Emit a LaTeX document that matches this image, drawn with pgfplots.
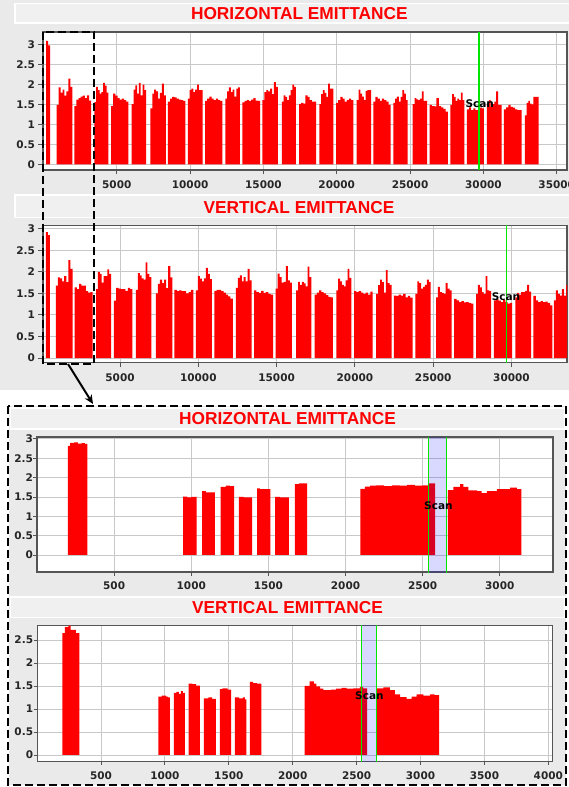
\documentclass[border=0pt]{standalone}
\usepackage{pgfplots}
\pgfplotsset{compat=1.18}
\usepackage{pgfplotstable}
\usepackage{fontspec}
\setmainfont{DejaVu Sans}
\newfontfamily\titlefont{Liberation Sans}
\usetikzlibrary{arrows.meta}

\definecolor{panelbg}{RGB}{234,234,234}
\definecolor{titlebg}{RGB}{240,240,240}
\definecolor{framegray}{RGB}{85,85,85}
\definecolor{gridgray}{RGB}{200,200,200}
\definecolor{scangreen}{RGB}{0,230,0}

% Each bunch train: a row at its start with 0, the emittance steps,
% a row at its end with 0, and a nan row that breaks the outline.

% Horizontal emittance per bunch train, full ring
\pgfplotstableread{
x y
190 0
190 3.09
320 2.98
450 0
0 nan
900 0
900 1.49
1034 1.93
1168 1.80
1301 1.87
1435 1.72
1569 1.83
1703 2.15
1836 1.94
1970 0
0 nan
2110 0
2110 1.46
2253 1.62
2395 1.66
2538 1.70
2680 1.72
2823 1.66
2965 1.73
3108 1.60
3250 0
0 nan
3470 0
3470 1.56
3590 1.94
3710 1.86
3830 1.77
3950 1.81
4070 2.04
4190 1.97
4310 1.80
4430 0
0 nan
4610 0
4610 1.46
4758 1.77
4905 1.72
5053 1.66
5200 1.62
5348 1.65
5495 1.61
5643 1.57
5790 0
0 nan
6020 0
6020 1.51
6143 1.87
6265 1.98
6388 1.77
6510 2.04
6633 1.73
6755 2.00
6878 1.86
7000 0
0 nan
7290 0
7290 1.40
7421 1.77
7553 1.87
7684 1.83
7815 1.65
7946 1.79
8078 2.02
8209 1.73
8340 0
0 nan
8480 0
8480 1.57
8630 1.65
8780 1.69
8930 1.68
9080 1.65
9230 1.62
9380 1.61
9530 1.59
9680 0
0 nan
9840 0
9840 1.65
9968 1.86
10095 1.90
10223 1.81
10350 1.87
10478 2.00
10605 1.86
10733 1.86
10860 0
0 nan
11020 0
11020 1.59
11168 1.65
11315 1.70
11463 1.65
11610 1.61
11758 1.65
11905 1.61
12053 1.59
12200 0
0 nan
12400 0
12400 1.65
12525 1.83
12650 1.93
12775 1.81
12900 1.87
13025 1.70
13150 1.90
13275 1.93
13400 0
0 nan
13560 0
13560 1.55
13711 1.59
13863 1.61
14014 1.59
14165 1.62
14316 1.66
14468 1.60
14619 1.59
14770 0
0 nan
14930 0
14930 1.61
15061 1.81
15193 1.86
15324 1.83
15455 1.90
15586 1.76
15718 2.06
15849 1.94
15980 0
0 nan
16250 0
16250 1.57
16371 1.73
16493 1.69
16614 1.61
16735 1.73
16856 1.86
16978 2.00
17099 1.94
17220 0
0 nan
17430 0
17430 1.51
17575 1.54
17720 1.52
17865 1.73
18010 1.69
18155 1.61
18300 1.57
18445 1.57
18590 0
0 nan
18810 0
18810 1.51
18930 1.76
19050 1.86
19170 1.79
19290 1.69
19410 2.02
19530 1.90
19650 1.90
19770 0
0 nan
19950 0
19950 1.54
20098 1.61
20245 1.69
20393 1.65
20540 1.57
20688 1.61
20835 1.65
20983 1.61
21130 0
0 nan
21360 0
21360 1.61
21483 1.87
21605 1.77
21728 1.70
21850 1.61
21973 1.84
22095 1.86
22218 1.86
22340 0
0 nan
22490 0
22490 1.57
22639 1.69
22788 1.65
22936 1.59
23085 1.65
23234 1.61
23383 1.57
23531 1.49
23680 0
0 nan
23860 0
23860 1.54
23983 1.65
24105 1.70
24228 1.57
24350 1.69
24473 1.86
24595 1.77
24718 1.61
24840 0
0 nan
25180 0
25180 1.51
25304 1.66
25428 1.63
25551 1.61
25675 1.65
25799 1.83
25923 1.59
26046 1.59
26170 0
0 nan
26340 0
26340 1.49
26494 1.46
26648 1.45
26801 1.66
26955 1.46
27109 1.43
27263 1.39
27416 1.32
27570 0
0 nan
27740 0
27740 1.49
27860 1.76
27980 1.69
28100 1.59
28220 1.65
28340 1.61
28460 1.80
28580 1.61
28700 0
0 nan
28880 0
28880 1.38
29025 1.43
29170 1.36
29315 1.40
29460 1.36
29605 1.36
29750 1.42
29895 1.40
30040 0
0 nan
30240 0
30240 1.52
30366 1.61
30493 1.44
30619 1.51
30745 1.57
30871 1.83
30998 1.49
31124 1.49
31250 0
0 nan
31400 0
31400 1.38
31551 1.43
31703 1.49
31854 1.44
32005 1.42
32156 1.38
32308 1.36
32459 1.36
32610 0
0 nan
32820 0
32820 1.23
32939 1.54
33058 1.59
33176 1.52
33295 1.50
33414 1.69
33533 1.69
33651 1.69
33770 0
}\hemit

% Vertical emittance per bunch train, full ring
\pgfplotstableread{
x y
260 0
260 2.92
390 2.85
520 0
0 nan
900 0
900 1.68
1034 1.87
1168 1.85
1301 1.78
1435 1.90
1569 1.76
1703 2.27
1836 2.07
1970 0
0 nan
2110 0
2110 1.64
2253 1.60
2395 1.72
2538 1.68
2680 1.68
2823 1.55
2965 1.52
3108 1.53
3250 0
0 nan
3470 0
3470 1.60
3590 2.00
3710 1.95
3830 1.75
3950 1.90
4070 1.90
4190 2.06
4310 1.95
4430 0
0 nan
4610 0
4610 1.33
4758 1.63
4905 1.61
5053 1.60
5200 1.60
5348 1.56
5495 1.63
5643 1.60
5790 0
0 nan
6020 0
6020 1.58
6143 1.97
6265 1.92
6388 1.85
6510 1.82
6633 2.22
6755 1.95
6878 1.88
7000 0
0 nan
7290 0
7290 1.50
7421 1.72
7553 1.82
7684 1.74
7815 1.82
7946 1.62
8078 2.13
8209 1.87
8340 0
0 nan
8480 0
8480 1.58
8630 1.55
8780 1.57
8930 1.55
9080 1.55
9230 1.50
9380 1.53
9530 1.58
9680 0
0 nan
9840 0
9840 1.57
9968 1.90
10095 1.84
10223 1.78
10350 1.85
10478 2.09
10605 1.95
10733 1.83
10860 0
0 nan
11020 0
11020 1.56
11168 1.58
11315 1.58
11463 1.55
11610 1.52
11758 1.47
11905 1.43
12053 1.38
12200 0
0 nan
12400 0
12400 1.63
12525 1.86
12650 1.92
12775 1.78
12900 1.88
13025 1.78
13150 2.07
13275 1.80
13400 0
0 nan
13560 0
13560 1.57
13711 1.53
13863 1.51
14014 1.56
14165 1.51
14316 1.53
14468 1.49
14619 1.47
14770 0
0 nan
14930 0
14930 1.61
15061 1.96
15193 1.88
15324 1.75
15455 1.77
15586 2.13
15718 1.80
15849 1.75
15980 0
0 nan
16250 0
16250 1.57
16371 1.77
16493 1.70
16614 1.77
16735 1.73
16856 1.66
16978 2.12
17099 1.88
17220 0
0 nan
17430 0
17430 1.47
17575 1.52
17720 1.57
17865 1.53
18010 1.50
18155 1.46
18300 1.42
18445 1.41
18590 0
0 nan
18810 0
18810 1.57
18930 1.84
19050 1.78
19170 1.70
19290 1.66
19410 1.80
19530 2.07
19650 1.86
19770 0
0 nan
19950 0
19950 1.55
20098 1.53
20245 1.55
20393 1.52
20540 1.49
20688 1.52
20835 1.47
20983 1.54
21130 0
0 nan
21360 0
21360 1.49
21483 1.69
21605 1.82
21728 1.76
21850 1.52
21973 2.04
22095 1.74
22218 1.70
22340 0
0 nan
22490 0
22490 1.45
22639 1.44
22788 1.47
22936 1.45
23085 1.49
23234 1.41
23383 1.44
23531 1.40
23680 0
0 nan
23860 0
23860 1.49
23983 1.78
24105 1.74
24228 1.61
24350 1.65
24473 1.70
24595 1.82
24718 1.76
24840 0
0 nan
25180 0
25180 1.41
25304 1.65
25428 1.53
25551 1.51
25675 1.49
25799 1.74
25923 1.61
26046 1.57
26170 0
0 nan
26340 0
26340 1.37
26494 1.34
26648 1.30
26801 1.32
26955 1.29
27109 1.30
27263 1.28
27416 1.26
27570 0
0 nan
27740 0
27740 1.49
27860 1.70
27980 1.64
28100 1.53
28220 1.49
28340 1.90
28460 1.57
28580 1.55
28700 0
0 nan
28880 0
28880 1.34
29025 1.36
29170 1.33
29315 1.30
29460 1.35
29605 1.30
29750 1.26
29895 1.28
30040 0
0 nan
30240 0
30240 1.41
30366 1.51
30493 1.47
30619 1.53
30745 1.53
30871 1.56
30998 1.70
31124 1.54
31250 0
0 nan
31400 0
31400 1.44
31551 1.34
31703 1.30
31854 1.32
32005 1.30
32156 1.31
32308 1.28
32459 1.22
32610 0
0 nan
32700 0
32700 1.34
32830 1.57
32960 1.49
33090 1.45
33220 1.60
33350 1.45
33480 1.70
33610 1.70
33740 0
}\vemit

% Horizontal emittance, first bunches of the fill
\pgfplotstableread{
x y
200 0
200 2.82
215 2.90
240 2.91
265 2.88
290 2.89
310 2.87
327 0
0 nan
948 0
948 1.51
975 1.49
1000 1.50
1035 0
0 nan
1071 0
1071 1.65
1095 1.62
1153 0
0 nan
1190 0
1190 1.76
1225 1.79
1250 1.78
1278 0
0 nan
1308 0
1308 1.50
1340 1.49
1394 0
0 nan
1427 0
1427 1.72
1445 1.70
1513 0
0 nan
1544 0
1544 1.50
1575 1.49
1632 0
0 nan
1671 0
1671 1.83
1700 1.85
1751 0
0 nan
2096 0
2096 1.71
2125 1.77
2160 1.79
2200 1.80
2250 1.78
2300 1.80
2350 1.79
2400 1.81
2450 1.79
2500 1.80
2540 1.85
2581 0
0 nan
2663 0
2663 1.68
2699 1.76
2743 1.83
2764 1.76
2797 1.67
2851 1.65
2883 1.60
2916 1.65
2981 1.70
3067 1.74
3110 1.70
3140 0
}\hzoom

% Vertical emittance, first bunches of the fill
\pgfplotstableread{
x y
197 0
197 2.65
218 2.78
244 2.81
263 2.72
304 2.65
330 0
0 nan
948 0
948 1.27
975 1.29
1010 1.27
1025 1.25
1039 0
0 nan
1070 0
1070 1.35
1090 1.37
1110 1.33
1125 1.39
1140 1.35
1156 0
0 nan
1185 0
1185 1.55
1215 1.54
1245 1.51
1273 0
0 nan
1305 0
1305 1.23
1340 1.25
1370 1.22
1398 0
0 nan
1430 0
1430 1.43
1450 1.45
1490 1.42
1518 0
0 nan
1547 0
1547 1.25
1580 1.23
1610 1.25
1625 1.21
1638 0
0 nan
1664 0
1664 1.59
1690 1.56
1720 1.55
1755 0
0 nan
2094 0
2094 1.50
2133 1.60
2165 1.55
2185 1.49
2215 1.44
2240 1.41
2300 1.42
2340 1.44
2383 1.46
2422 1.44
2474 1.45
2526 1.48
2550 1.45
2583 0
0 nan
2660 0
2660 1.45
2709 1.47
2761 1.41
2800 1.32
2840 1.26
2892 1.22
2931 1.27
2970 1.32
3022 1.29
3074 1.32
3110 1.30
3145 0
}\vzoom

\pgfplotsset{
  emit/.style={
    scale only axis, anchor=north west,
    axis background/.style={fill=white},
    grid=major,
    major grid style={draw=gridgray, line width=0.9pt},
    axis line style={draw=framegray, line width=1.1pt},
    tick align=outside, major tick length=4.5pt,
    tick style={draw=framegray, line width=0.9pt},
    xtick pos=bottom, ytick pos=left,
    ticklabel style={font=\fontsize{10.5}{12}\selectfont\bfseries, text=black!85},
    /pgf/number format/assume math mode=true,
    scaled ticks=false,
    xticklabel style={/pgf/number format/1000 sep={}, yshift=-3pt},
    unbounded coords=jump,
  },
  bunches/.style={const plot, fill=red, draw=none},
  scanline/.style={scangreen, line width=1.3pt},
}
\tikzset{
  scanlabel/.style={font=\fontsize{10.5}{12}\selectfont\bfseries, text=black, inner sep=0pt},
  titletext/.style={text=red, font=\titlefont\bfseries\fontsize{17.3}{20}\selectfont, inner sep=0pt},
  titlebar/.style={fill=titlebg, draw=white, line width=1.6pt},
}

\begin{document}
\begin{tikzpicture}
\useasboundingbox (0,0) rectangle (569pt,-787pt);
\fill[white] (0,0) rectangle (569pt,-787pt);
\fill[panelbg] (0,0) rectangle (569pt,-390pt);
\fill[panelbg] (9pt,-406pt) rectangle (566pt,-785pt);

% title bars
\draw[titlebar] (15pt,-3.5pt) rectangle (575pt,-23pt);
\node[titletext] at (299.3pt,-13.3pt) {HORIZONTAL EMITTANCE};
\draw[titlebar] (15pt,-195pt) rectangle (575pt,-217.3pt);
\node[titletext] at (299pt,-207.5pt) {VERTICAL EMITTANCE};
\draw[titlebar] (10.5pt,-408pt) rectangle (565pt,-429pt);
\node[titletext] at (287.5pt,-418.3pt) {HORIZONTAL EMITTANCE};
\draw[titlebar] (10.5pt,-596.7pt) rectangle (565pt,-617.3pt);
\node[titletext] at (287.5pt,-607.5pt) {VERTICAL EMITTANCE};

% full ring, horizontal
\begin{axis}[emit, at={(43pt,-32pt)}, width=524pt, height=138pt,
  xmin=-30, xmax=35700, ymin=-0.14, ymax=3.315,
  xtick={5000,10000,15000,20000,25000,30000,35000},
  ytick={0,0.5,1,1.5,2,2.5,3}]
\addplot[bunches] table {\hemit};
\addplot[scanline] coordinates {(29700,-1) (29700,4)};
\node[scanlabel] at (axis cs:29750,1.53) {Scan};
\end{axis}

% full ring, vertical
\begin{axis}[emit, at={(43pt,-225.3pt)}, width=524pt, height=137.2pt,
  xmin=83, xmax=33544, ymin=-0.104, ymax=3.08,
  xtick={5000,10000,15000,20000,25000,30000,35000},
  ytick={0,0.5,1,1.5,2,2.5,3}]
\addplot[bunches] table {\vemit};
\addplot[scanline] coordinates {(29700,-1) (29700,4)};
\node[scanlabel] at (axis cs:29650,1.42) {Scan};
\end{axis}

% first bunches, horizontal
\begin{axis}[emit, at={(37pt,-437pt)}, width=516pt, height=135pt,
  xmin=0, xmax=3345, ymin=-0.44, ymax=3.05,
  xtick={500,1000,1500,2000,2500,3000},
  ytick={0,0.5,1,1.5,2,2.5,3},
  major tick length=3.5pt, yticklabel style={xshift=3pt}]
\addplot[bunches] table {\hzoom};
\addplot[fill=blue, fill opacity=0.15, draw=none] coordinates {(2538,-1) (2653,-1) (2653,4) (2538,4)} -- cycle;
\addplot[scangreen, line width=1pt] coordinates {(2538,-1) (2538,4)};
\addplot[scangreen, line width=1pt] coordinates {(2653,-1) (2653,4)};
\node[scanlabel] at (axis cs:2602,1.27) {Scan};
\end{axis}

% first bunches, vertical
\begin{axis}[emit, at={(37.1pt,-625.7pt)}, width=515.6pt, height=136pt,
  xmin=0, xmax=4034, ymin=-0.146, ymax=2.81,
  xtick={500,1000,1500,2000,2500,3000,3500,4000},
  ytick={0,0.5,1,1.5,2,2.5},
  major tick length=3.5pt, yticklabel style={xshift=3pt}]
\addplot[bunches] table {\vzoom};
\addplot[fill=blue, fill opacity=0.15, draw=none] coordinates {(2538,-1) (2653,-1) (2653,4) (2538,4)} -- cycle;
\addplot[scangreen, line width=1pt] coordinates {(2538,-1) (2538,4)};
\addplot[scangreen, line width=1pt] coordinates {(2653,-1) (2653,4)};
\node[scanlabel] at (axis cs:2600,1.30) {Scan};
\end{axis}

% zoom window and pointer
\draw[black, line width=2.3pt, dash pattern=on 8pt off 4pt] (43.3pt,-31.7pt) rectangle (94.3pt,-364pt);
\draw[black, line width=2pt, -{Stealth[length=9pt,width=8pt]}] (68pt,-364pt) -- (93pt,-404pt);
\draw[black, line width=2.2pt, dash pattern=on 8pt off 4pt] (8.3pt,-405.7pt) rectangle (566pt,-785pt);
\end{tikzpicture}
\end{document}
